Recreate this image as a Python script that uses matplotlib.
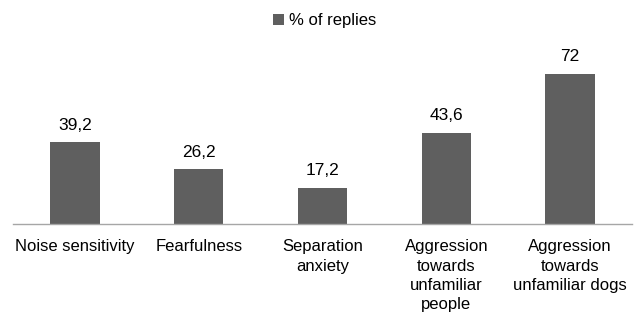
import matplotlib.pyplot as plt
import numpy as np

categories = ['Noise sensitivity', 'Fearfulness', 'Separation\nanxiety',
              'Aggression\ntowards\nunfamiliar\npeople',
              'Aggression\ntowards\nunfamiliar dogs']
replies = [39.2, 26.2, 17.2, 43.6, 72]
series_name = '% of replies'

plt.rcParams['font.family'] = ['Liberation Sans', 'DejaVu Sans']

fig = plt.figure(figsize=(6.36, 3.15), dpi=100)
ax = fig.add_axes([13 / 636, 91 / 315, 619 / 636, 166.7 / 315])

x = np.arange(len(categories))
bars = ax.bar(x, replies, width=0.4, color='#5f5f5f', label=series_name)
ax.set_xlim(-0.5, len(categories) - 0.5)
ax.set_ylim(0, 80)

for b, v in zip(bars, replies):
    txt = f'{v:g}'.replace('.', ',')
    ax.annotate(txt, (b.get_x() + b.get_width() / 2, v), xytext=(0, 7),
                textcoords='offset points', ha='center', va='bottom', fontsize=12.5)

ax.set_xticks(x)
ax.set_xticklabels(categories, fontsize=12, linespacing=1.36, va='top')
ax.tick_params(axis='x', length=0, pad=11)
ax.set_yticks([])
for s in ['top', 'right', 'left']:
    ax.spines[s].set_visible(False)
ax.spines['bottom'].set_color('#a6a6a6')
ax.spines['bottom'].set_linewidth(1.0)

fig.legend(loc='center', bbox_to_anchor=(0.51, 0.935), frameon=False, fontsize=12,
           handlelength=0.65, handleheight=0.65, handletextpad=0.3)

fig.savefig('out.png', dpi=100)
